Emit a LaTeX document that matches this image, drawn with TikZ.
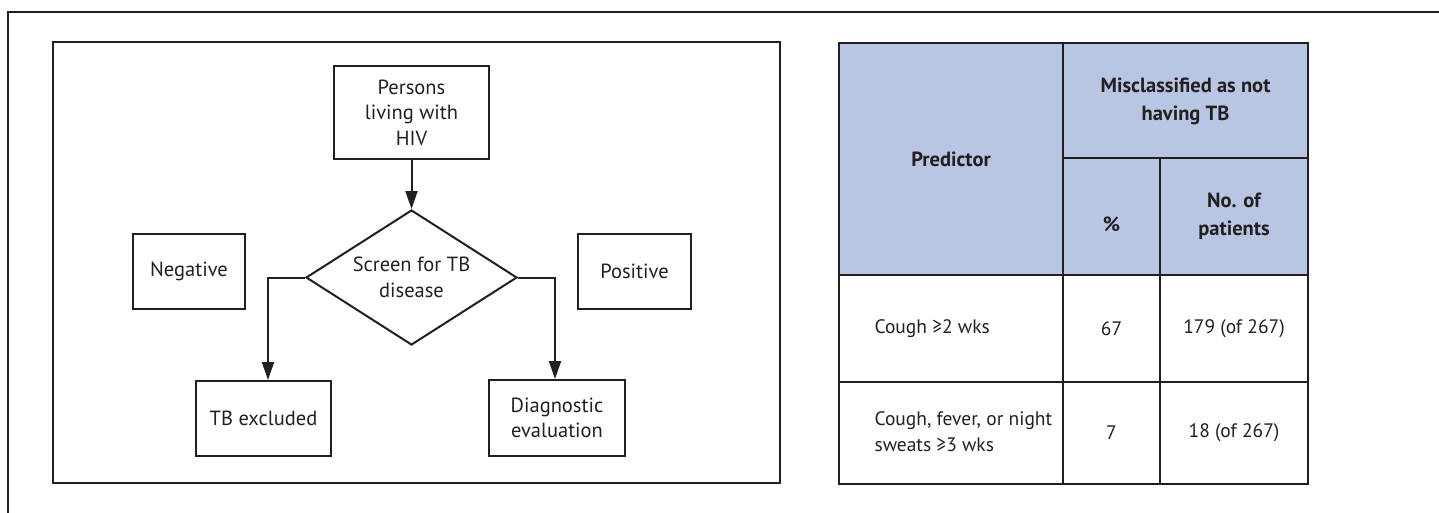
\documentclass[tikz,border=0pt]{standalone}
\usepackage{fontspec}
\setmainfont{PT Sans}
\usetikzlibrary{shapes.geometric,arrows.meta}
\definecolor{ink}{HTML}{231F20}
\definecolor{hdr}{HTML}{B8C6E3}
\begin{document}
\begin{tikzpicture}[x=1pt,y=-1pt,
  fc/.style={font=\fontsize{20.5}{25.5}\selectfont, text=ink, align=center},
  fbox/.style={fc, draw=ink, line width=2pt, inner sep=0pt},
  tc/.style={font=\fontsize{19.5}{26}\selectfont, text=ink},
  th/.style={font=\bfseries\fontsize{20.5}{27.5}\selectfont, text=ink, align=center},
  cell/.style={draw=ink, line width=2pt, inner sep=0pt, anchor=north west},
  hcell/.style={cell, fill=hdr},
  conn/.style={draw=ink, line width=2pt, -{Triangle[length=18pt,width=12pt]}}]
\useasboundingbox (0,0) rectangle (1439,512);
% outer frame
\draw[ink, line width=2.5pt] (8,514) -- (8,12) -- (1441,12);
% left panel
\draw[ink, line width=2pt] (53,42) rectangle (780,483);
% flowchart
\node[fbox, minimum width=155pt, minimum height=93pt] (hiv) at (411.5,112.5) {Persons\\living with\\HIV};
\node[fbox, diamond, aspect=1.56, minimum width=211pt, minimum height=135pt] (scr) at (411.5,277.5) {Screen for TB\\disease};
\node[fbox, minimum width=112pt, minimum height=75pt] (neg) at (189,271.5) {Negative};
\node[fbox, minimum width=113pt, minimum height=75pt] (pos) at (634.5,271.5) {Positive};
\node[fbox, minimum width=135pt, minimum height=75pt] (tbx) at (263.5,418.5) {TB excluded};
\node[fbox, minimum width=136pt, minimum height=76pt] (dia) at (557,418) {Diagnostic\\evaluation};
\draw[conn] (hiv) -- (scr);
\draw[conn] (scr.west) -| ([xshift=4.5pt]tbx.north);
\draw[conn] (scr.east) -| ([xshift=-2pt]dia.north);
% table
\node[hcell, minimum width=224pt, minimum height=232pt] (pred) at (838,42) {};
\node[hcell, minimum width=245pt, minimum height=115pt] (mis) at (1062,42) {};
\node[hcell, minimum width=97pt, minimum height=117pt] (pct) at (1062,157) {};
\node[hcell, minimum width=148pt, minimum height=117pt] (nop) at (1159,157) {};
\node[cell, minimum width=224pt, minimum height=107pt] (ra) at (838,274) {};
\node[cell, minimum width=97pt, minimum height=107pt] (rb) at (1062,274) {};
\node[cell, minimum width=148pt, minimum height=107pt] (rc) at (1159,274) {};
\node[cell, minimum width=224pt, minimum height=102pt] (sa) at (838,381) {};
\node[cell, minimum width=97pt, minimum height=102pt] (sb) at (1062,381) {};
\node[cell, minimum width=148pt, minimum height=102pt] (sc) at (1159,381) {};
\node[th] (tpred) at (pred.center) {Predictor};
\node[th] (tmis) at ([yshift=-1pt]mis.center) {Misclassified as not\\having TB};
\node[th] (tpct) at ([yshift=-8pt]pct.center) {\%};
\node[th] (tnop) at (nop.center) {No. of\\patients};
\node[tc, anchor=west] (t1a) at (871,329) {Cough ≥2 wks};
\node[tc] (t1b) at (rb.center) {67};
\node[tc] (t1c) at (rc.center) {179 (of 267)};
\node[tc, anchor=west, align=left] (t2a) at (871,432) {Cough, fever, or night\\sweats ≥3 wks};
\node[tc] (t2b) at (sb.center) {7};
\node[tc] (t2c) at (sc.center) {18 (of 267)};
\end{tikzpicture}
\end{document}
